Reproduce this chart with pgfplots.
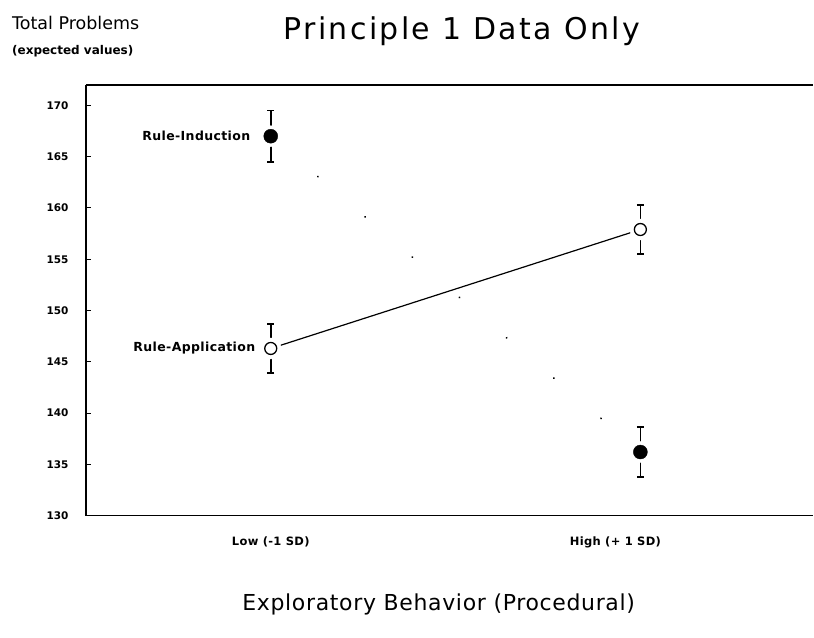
\documentclass[border=0pt]{standalone}
\usepackage{pgfplots}
\pgfplotsset{compat=1.18}
\usepackage{fontspec}
\setmainfont{DejaVu Sans}
\newfontfamily\titlefont{DejaVu Sans}[LetterSpace=8]
\newfontfamily\lblfont{DejaVu Sans}[LetterSpace=3]

\begin{document}
\begin{tikzpicture}
\begin{axis}[
  at={(0pt,0pt)}, anchor=south west,
  scale only axis, width=728pt, height=431pt,
  xmin=-0.5, xmax=1.468, ymin=130, ymax=172,
  axis x line=box, axis y line=left,
  axis line style={-, line width=1.3pt},
  every outer y axis line/.append style={-},
  every outer x axis line/.append style={-},
  every inner x axis line/.append style={-},
  every inner y axis line/.append style={-},
  ytick={130,135,...,170},
  ytick pos=left, tick align=inside,
  major tick length=5pt,
  ytick style={line width=1pt, black},
  xtick={0,1},
  xticklabels={Low (-1 SD), {\hspace*{-50pt}High (+ 1 SD)}},
  xtick style={draw=none},
  xticklabel pos=lower,
  /pgf/number format/assume math mode=true,
  yticklabel style={font=\bfseries\fontsize{10.5}{13}\selectfont, xshift=-14pt},
  xticklabel style={font=\lblfont\bfseries\fontsize{11.5}{13}\selectfont, yshift=-18pt},
  clip=false,
]
% error bars
\addplot[black, only marks, mark=*, mark size=1pt,
  error bars/.cd, y dir=both, y explicit,
  error bar style={line width=1.6pt, black},
  error mark options={rotate=90, mark size=3.5pt, line width=1.6pt, black}]
  coordinates {(0,167) +- (0,2.5) (1,136.2) +- (0,2.45) (0,146.3) +- (0,2.4) (1,157.9) +- (0,2.4)};
% white gaps around the markers
\addplot[white, only marks, mark=*, mark size=10.5pt, mark options={fill=white, draw=white}]
  coordinates {(0,167) (1,136.2) (0,146.3) (1,157.9)};
% Rule-Induction (sparse dotted line)
\addplot[black, line width=2pt, line cap=round, dash pattern=on 0.1pt off 62pt, mark=none]
  coordinates {(0,167) (1,136.2)};
% Rule-Application (solid line)
\addplot[black, line width=1.2pt, mark=none]
  coordinates {(0,146.3) (1,157.9)};
% markers
\addplot[black, only marks, mark=*, mark size=7pt, mark options={fill=black, draw=black}]
  coordinates {(0,167) (1,136.2)};
\addplot[black, only marks, mark=*, mark size=6pt, mark options={fill=white, draw=black, line width=1.3pt}]
  coordinates {(0,146.3) (1,157.9)};
\node[anchor=east, xshift=-17pt, font=\lblfont\bfseries\fontsize{12.5}{14}\selectfont] at (axis cs:0,167) {Rule-Induction};
\node[anchor=east, xshift=-12pt, font=\lblfont\bfseries\fontsize{12.5}{14}\selectfont] at (axis cs:0,146.3) {Rule-Application};
\end{axis}
\node[font=\titlefont\fontsize{30}{34}\selectfont] at (376pt,485pt) {Principle 1 Data Only};
\node[anchor=west, inner sep=0pt, font=\fontsize{17.5}{20}\selectfont] at (-74pt,493pt) {Total Problems};
\node[anchor=west, inner sep=0pt, font=\bfseries\fontsize{12}{14}\selectfont] at (-74pt,465pt) {(expected values)};
\node[font=\lblfont\fontsize{22}{26}\selectfont] at (353pt,-89pt) {Exploratory Behavior (Procedural)};
\path (-86pt,-122pt) rectangle (728pt,516pt);
\end{tikzpicture}
\end{document}
